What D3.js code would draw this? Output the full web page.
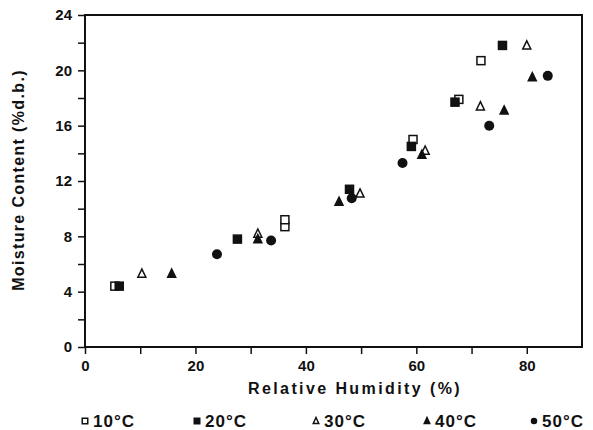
<!DOCTYPE html>
<html>
<head>
<meta charset="utf-8">
<script src="https://cdn.jsdelivr.net/npm/d3@7"></script>
<style>
  body { margin: 0; background: #fff; }
  text { font-family: "Liberation Sans", Arial, sans-serif; font-weight: bold; fill: #111; }
</style>
</head>
<body>
<div id="chart"></div>
<script>
// relative humidity (%) and moisture content (%d.b.) per temperature
var rh10 = [5.4, 36.2, 36.2, 59.4, 67.7, 71.7];
var mc10 = [4.4, 8.7, 9.2, 15.0, 17.9, 20.7];
var rh20 = [6.2, 27.6, 47.9, 59.1, 67.0, 75.6];
var mc20 = [4.4, 7.8, 11.4, 14.5, 17.7, 21.8];
var rh30 = [10.3, 31.3, 49.8, 61.6, 71.6, 80.0];
var mc30 = [5.3, 8.2, 11.1, 14.2, 17.4, 21.8];
var rh40 = [15.7, 31.3, 46.0, 61.0, 75.9, 81.0];
var mc40 = [5.3, 7.8, 10.5, 13.9, 17.1, 19.5];
var rh50 = [23.9, 33.7, 48.3, 57.5, 73.2, 83.8];
var mc50 = [6.7, 7.7, 10.75, 13.3, 16.0, 19.6];

var labels = ["10°C", "20°C", "30°C", "40°C", "50°C"];
var xTicks = [0, 10, 20, 30, 40, 50, 60, 70, 80];
var yTicks = [0, 2, 4, 6, 8, 10, 12, 14, 16, 18, 20, 22, 24];

var series = [
    {name: labels[0], x: rh10, y: mc10, shape: "square", filled: false},
    {name: labels[1], x: rh20, y: mc20, shape: "square", filled: true},
    {name: labels[2], x: rh30, y: mc30, shape: "triangle", filled: false},
    {name: labels[3], x: rh40, y: mc40, shape: "triangle", filled: true},
    {name: labels[4], x: rh50, y: mc50, shape: "circle", filled: true}
];

var width = 593, height = 430;
var margin = {top: 15, right: 11, bottom: 83, left: 85};

var xScale = d3.scaleLinear().domain([0, 90]).range([margin.left, width - margin.right]);
var yScale = d3.scaleLinear().domain([0, 24]).range([height - margin.bottom, margin.top]);

var svg = d3.select("#chart").append("svg")
    .attr("width", width)
    .attr("height", height);

// axes
var xAxis = svg.append("g")
    .attr("transform", "translate(0," + yScale(0) + ")")
    .call(d3.axisBottom(xScale).tickValues(xTicks).tickSize(7).tickSizeOuter(0)
        .tickFormat(function(d) { return d % 20 == 0 ? d : ""; }));

var yAxis = svg.append("g")
    .attr("transform", "translate(" + xScale(0) + ",0)")
    .call(d3.axisLeft(yScale).tickValues(yTicks).tickSize(7).tickSizeOuter(0)
        .tickFormat(function(d) { return d % 4 == 0 ? d : ""; }));

[xAxis, yAxis].forEach(function(ax) {
    ax.select(".domain").remove();
    ax.selectAll(".tick line").attr("stroke", "#111").attr("stroke-width", 1.5);
    ax.selectAll(".tick text").attr("font-size", 15).attr("fill", "#111")
        .style("font-family", "'Liberation Sans', Arial, sans-serif").style("font-weight", "bold");
});
xAxis.selectAll(".tick text").attr("dy", "0.9em");
yAxis.selectAll(".tick text").attr("x", -13);

// frame
svg.append("rect")
    .attr("x", xScale(0))
    .attr("y", yScale(24))
    .attr("width", xScale(90) - xScale(0))
    .attr("height", yScale(0) - yScale(24))
    .attr("fill", "none")
    .attr("stroke", "#111")
    .attr("stroke-width", 2);

// axis titles
svg.append("text")
    .attr("x", 355)
    .attr("y", 394)
    .attr("text-anchor", "middle")
    .attr("font-size", 16)
    .attr("letter-spacing", 2.4)
    .text("Relative Humidity (%)");

svg.append("text")
    .attr("transform", "translate(24,180) rotate(-90)")
    .attr("text-anchor", "middle")
    .attr("font-size", 16)
    .attr("letter-spacing", 1.35)
    .text("Moisture Content (%d.b.)");

function drawMarker(g, shape, filled, size) {
    var fill = filled ? "#111" : "#fff";
    if (shape == "square") {
        g.append("rect")
            .attr("x", -size / 2).attr("y", -size / 2)
            .attr("width", size).attr("height", size)
            .attr("fill", fill).attr("stroke", "#111").attr("stroke-width", 1.5);
    } else if (shape == "triangle") {
        var h = size * 0.9;
        g.append("path")
            .attr("d", "M0," + (-h / 2 - 1) + "L" + (size / 2) + "," + (h / 2) + "L" + (-size / 2) + "," + (h / 2) + "Z")
            .attr("fill", fill).attr("stroke", "#111").attr("stroke-width", 1.5)
            .attr("stroke-linejoin", "miter");
    } else {
        g.append("circle").attr("r", size / 2 + 0.5).attr("fill", fill);
    }
}

// points
series.forEach(function(s) {
    s.x.forEach(function(xv, i) {
        var g = svg.append("g")
            .attr("transform", "translate(" + xScale(xv) + "," + yScale(s.y[i]) + ")");
        drawMarker(g, s.shape, s.filled, s.shape == "circle" ? 9 : 8);
    });
});

// legend
var legendX = [85, 197, 316, 427, 534];
series.forEach(function(s, i) {
    var g = svg.append("g").attr("transform", "translate(" + legendX[i] + ",421)");
    drawMarker(g, s.shape, s.filled, 5.5);
    g.append("text")
        .attr("x", 8)
        .attr("y", 6)
        .attr("font-size", 17)
        .attr("letter-spacing", 1)
        .text(s.name);
});
</script>
</body>
</html>
